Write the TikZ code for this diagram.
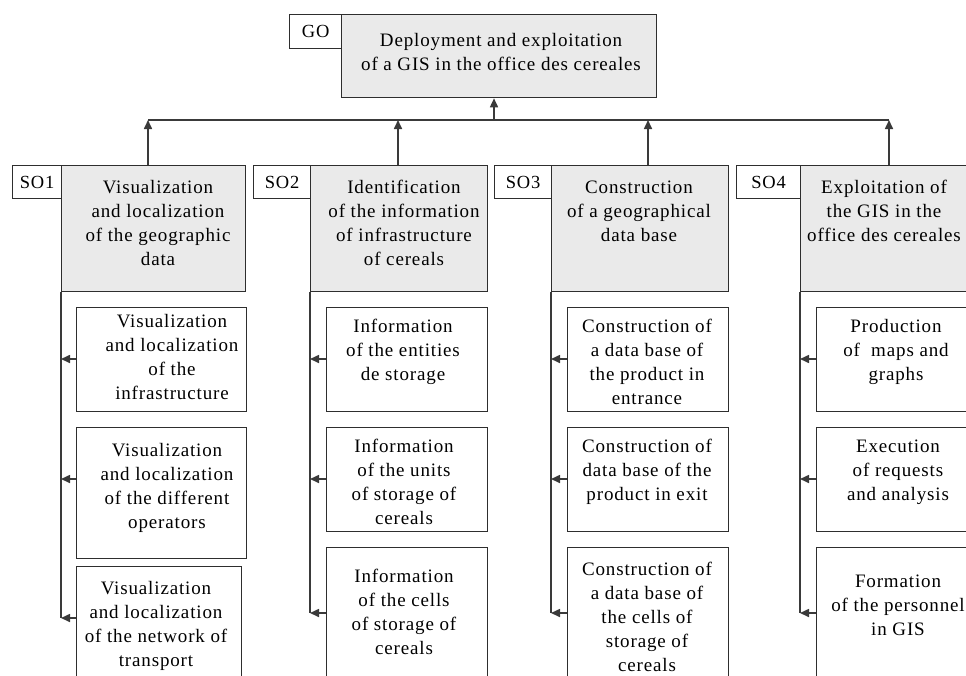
\documentclass[tikz,border=0pt]{standalone}
\usepackage{fontspec}
\setmainfont{Liberation Serif}[LetterSpace=4.5]
\usetikzlibrary{arrows.meta}
\definecolor{boxfill}{HTML}{EAEAEA}
\definecolor{linec}{HTML}{2E2E2E}
\definecolor{connc}{HTML}{3A3A3A}
\begin{document}
\begin{tikzpicture}[x=1pt,y=-1pt,
  boxbase/.style={draw=linec, line width=1.3pt, rectangle, inner sep=0pt, anchor=north west},
  labbox/.style={boxbase, fill=white, font=\fontsize{18.5}{24}\selectfont},
  mainbox/.style={boxbase, fill=boxfill},
  childbox/.style={boxbase, fill=white},
  txt/.style={anchor=base, align=center, inner sep=0pt, font=\fontsize{19}{24}\selectfont},
  conn/.style={draw=connc, line width=1.6pt},
  arr/.style={conn, -{Triangle[length=9pt,width=8pt]}}]
\useasboundingbox (0,0) rectangle (966,675);
\clip (0,0) rectangle (966,675);
\fill[white] (0,0) rectangle (966,675);

% top goal
\node[labbox, minimum width=52pt, minimum height=34pt] (gol) at (289,14) {GO};
\node[mainbox, minimum width=315pt, minimum height=83pt] (go) at (341,14) {};
\node[txt] (got) at (501,70) {Deployment and exploitation\\of a GIS in the office des cereales};

% sub goals
\node[labbox, minimum width=49pt, minimum height=33pt] (so1l) at (12,165) {SO1};
\node[mainbox, minimum width=184pt, minimum height=126pt] (so1) at (61,165) {};
\node[txt] (so1t) at (158,265) {Visualization\\and localization\\of the geographic\\data};

\node[labbox, minimum width=57pt, minimum height=33pt] (so2l) at (253,165) {SO2};
\node[mainbox, minimum width=177pt, minimum height=126pt] (so2) at (310,165) {};
\node[txt] (so2t) at (404,265) {Identification\\of the information\\of infrastructure\\of cereals};

\node[labbox, minimum width=57pt, minimum height=33pt] (so3l) at (494,165) {SO3};
\node[mainbox, minimum width=177pt, minimum height=126pt] (so3) at (551,165) {};
\node[txt] (so3t) at (639,241) {Construction\\of a geographical\\data base};

\node[labbox, minimum width=64pt, minimum height=33pt] (so4l) at (736,165) {SO4};
\node[mainbox, minimum width=172pt, minimum height=126pt] (so4) at (800,165) {};
\node[txt] (so4t) at (884,241) {Exploitation of\\the GIS in the\\office des cereales};

% bus
\coordinate (b1) at (148,120);
\coordinate (b2) at (398,120);
\coordinate (b3) at (648,120);
\coordinate (b4) at (889,120);
\coordinate (bgo) at (494,120);
\draw[conn] (b1) -- (b4);
\draw[arr] (bgo) -- (bgo |- go.south);
\draw[arr] (so1.north -| b1) -- (b1);
\draw[arr] (so2.north -| b2) -- (b2);
\draw[arr] (so3.north -| b3) -- (b3);
\draw[arr] (so4.north -| b4) -- (b4);

% children of SO1
\node[childbox, minimum width=170pt, minimum height=104pt] (c11) at (76,307) {};
\node[txt] (c11t) at (172,399) {Visualization\\and localization\\of the\\infrastructure};
\node[childbox, minimum width=170pt, minimum height=131pt] (c12) at (76,427) {};
\node[txt] (c12t) at (167,528) {Visualization\\and localization\\of the different\\operators};
\node[childbox, minimum width=165pt, minimum height=130pt] (c13) at (76,566) {};
\node[txt] (c13t) at (156,666) {Visualization\\and localization\\of the network of\\transport};
\coordinate (a11) at (61,359);
\coordinate (a12) at (61,479);
\coordinate (a13) at (61,618);
\draw[conn] (so1.south west) -- (a13);
\draw[arr] (c11.west |- a11) -- (a11);
\draw[arr] (c12.west |- a12) -- (a12);
\draw[arr] (c13.west |- a13) -- (a13);

% children of SO2
\node[childbox, minimum width=161pt, minimum height=104pt] (c21) at (326,307) {};
\node[txt] (c21t) at (403,380) {Information\\of the entities\\de storage};
\node[childbox, minimum width=161pt, minimum height=104pt] (c22) at (326,427) {};
\node[txt] (c22t) at (404,524) {Information\\of the units\\of storage of\\cereals};
\node[childbox, minimum width=161pt, minimum height=150pt] (c23) at (326,547) {};
\node[txt] (c23t) at (404,654) {Information\\of the cells\\of storage of\\cereals};
\coordinate (a21) at (310,359);
\coordinate (a22) at (310,479);
\coordinate (a23) at (310,613);
\draw[conn] (so2.south west) -- (a23);
\draw[arr] (c21.west |- a21) -- (a21);
\draw[arr] (c22.west |- a22) -- (a22);
\draw[arr] (c23.west |- a23) -- (a23);

% children of SO3
\node[childbox, minimum width=161pt, minimum height=104pt] (c31) at (567,307) {};
\node[txt] (c31t) at (647,404) {Construction of\\a data base of\\the product in\\entrance};
\node[childbox, minimum width=161pt, minimum height=104pt] (c32) at (567,427) {};
\node[txt] (c32t) at (647,500) {Construction of\\data base of the\\product in exit};
\node[childbox, minimum width=161pt, minimum height=150pt] (c33) at (567,547) {};
\node[txt] (c33t) at (647,671) {Construction of\\a data base of\\the cells of\\storage of\\cereals};
\coordinate (a31) at (551,359);
\coordinate (a32) at (551,479);
\coordinate (a33) at (551,613);
\draw[conn] (so3.south west) -- (a33);
\draw[arr] (c31.west |- a31) -- (a31);
\draw[arr] (c32.west |- a32) -- (a32);
\draw[arr] (c33.west |- a33) -- (a33);

% children of SO4
\node[childbox, minimum width=166pt, minimum height=104pt] (c41) at (816,307) {};
\node[txt] (c41t) at (896,380) {Production\\of\ \ maps and\\graphs};
\node[childbox, minimum width=166pt, minimum height=104pt] (c42) at (816,427) {};
\node[txt] (c42t) at (898,500) {Execution\\of requests\\and analysis};
\node[childbox, minimum width=166pt, minimum height=150pt] (c43) at (816,547) {};
\node[txt] (c43t) at (898,635) {Formation\\of the personnel\\in GIS};
\coordinate (a41) at (800,359);
\coordinate (a42) at (800,479);
\coordinate (a43) at (800,613);
\draw[conn] (so4.south west) -- (a43);
\draw[arr] (c41.west |- a41) -- (a41);
\draw[arr] (c42.west |- a42) -- (a42);
\draw[arr] (c43.west |- a43) -- (a43);
\end{tikzpicture}
\end{document}
